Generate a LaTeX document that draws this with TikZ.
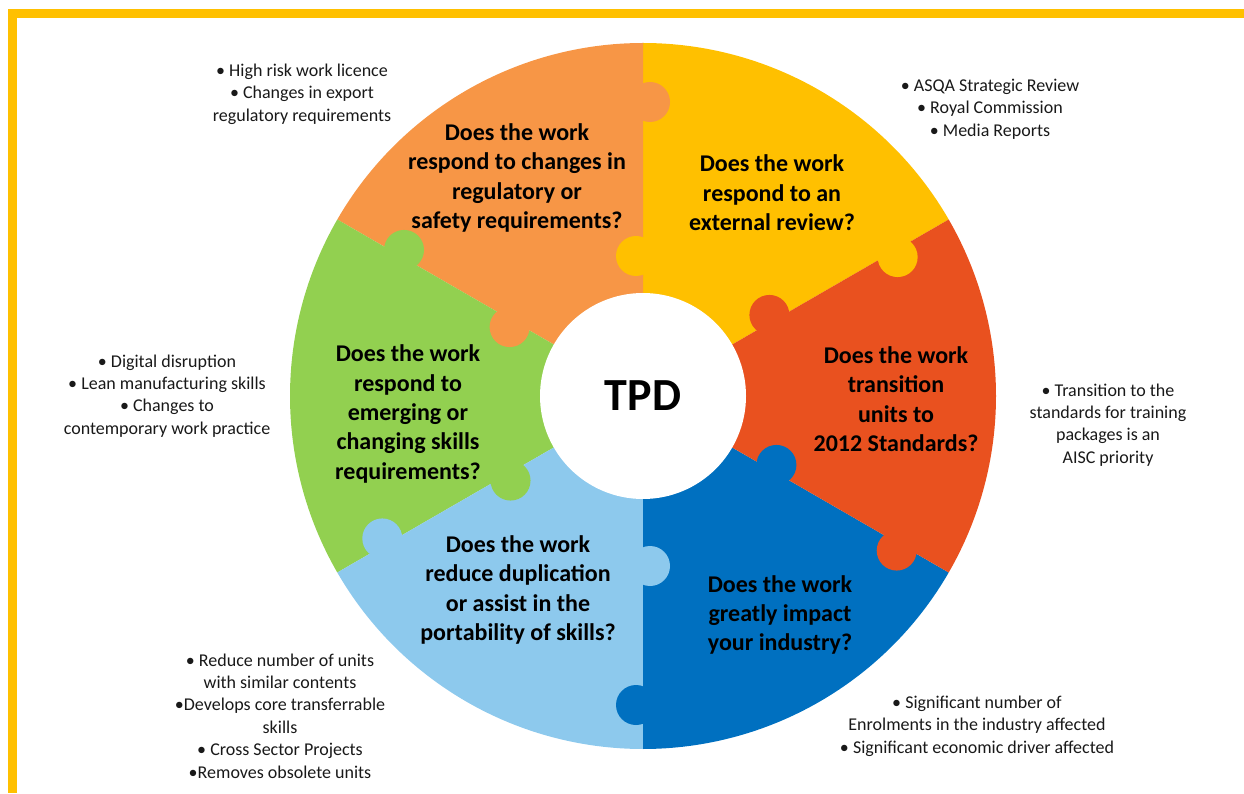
\documentclass[tikz,border=0pt]{standalone}
\usepackage{fontspec}
\setmainfont{Carlito}
\usepackage{tikz}
\usetikzlibrary{calc}
\usepackage{xcolor}
\definecolor{corange}{HTML}{F79646}
\definecolor{cyellow}{HTML}{FFC000}
\definecolor{cred}{HTML}{E9511F}
\definecolor{cblue}{HTML}{0070C0}
\definecolor{clight}{HTML}{8DC9ED}
\definecolor{cgreen}{HTML}{92D050}
\tikzstyle{question} = [align=center, text=black, font=\fontsize{24}{29.4}\selectfont\bfseries, inner sep=0pt]
\tikzstyle{notes} = [align=center, text=black!90, font=\fontsize{18}{22.4}\selectfont, inner sep=0pt]
\tikzstyle{hub} = [circle, fill=white, minimum size=206pt, inner sep=0pt, font=\fontsize{46}{50}\selectfont\bfseries]

\begin{document}
\begin{tikzpicture}[x=1pt, y=1pt]
\useasboundingbox (0,0) rectangle (1244,793);
% frame
\fill[cyellow] (8,0) rectangle (17,784);
\fill[cyellow] (8,775) rectangle (1244,784);

\begin{scope}[shift={(643,397)}]
% wheel sectors
\fill[cyellow] (0,0) -- (30:353pt) arc[start angle=30, end angle=90, radius=353pt] -- cycle;
\fill[corange] (0,0) -- (90:353pt) arc[start angle=90, end angle=150, radius=353pt] -- cycle;
\fill[cgreen] (0,0) -- (150:353pt) arc[start angle=150, end angle=210, radius=353pt] -- cycle;
\fill[clight] (0,0) -- (210:353pt) arc[start angle=210, end angle=270, radius=353pt] -- cycle;
\fill[cblue] (0,0) -- (270:353pt) arc[start angle=270, end angle=330, radius=353pt] -- cycle;
\fill[cred] (0,0) -- (-30:353pt) arc[start angle=-30, end angle=30, radius=353pt] -- cycle;
% puzzle tabs, outer ring
\fill[corange] ($(90:294pt)+(0:7pt)$) circle[radius=20pt];
\fill[cyellow] ($(30:290pt)+(-60:7pt)$) circle[radius=20pt];
\fill[cred] ($(-30:297pt)+(-120:7pt)$) circle[radius=20pt];
\fill[cblue] ($(-90:309pt)+(180:7pt)$) circle[radius=20pt];
\fill[clight] ($(210:297pt)+(120:7pt)$) circle[radius=20pt];
\fill[cgreen] ($(150:280pt)+(60:7pt)$) circle[radius=20pt];
% puzzle tabs, inner ring
\fill[cyellow] ($(90:140pt)+(180:7pt)$) circle[radius=20pt];
\fill[cred] ($(30:150pt)+(120:7pt)$) circle[radius=20pt];
\fill[cblue] ($(-30:150pt)+(60:7pt)$) circle[radius=20pt];
\fill[clight] ($(-90:170pt)+(0:7pt)$) circle[radius=20pt];
\fill[cgreen] ($(210:157pt)+(-60:7pt)$) circle[radius=20pt];
\fill[corange] ($(150:150pt)+(-120:7pt)$) circle[radius=20pt];
\node[hub] (tpd) at (0,0) {TPD};
\end{scope}

% questions
\node[question] (regulatory) at (517,615) {Does the work\\respond to changes in\\regulatory or\\safety requirements?};
\node[question] (review) at (772,600) {Does the work\\respond to an\\external review?};
\node[question] (standards) at (896,394) {Does the work\\transition\\units to\\2012 Standards?};
\node[question] (impact) at (780,178) {Does the work\\greatly impact\\your industry?};
\node[question] (portability) at (518,203) {Does the work\\reduce duplication\\or assist in the\\portability of skills?};
\node[question] (emerging) at (408,379) {Does the work\\respond to\\emerging or\\changing skills\\requirements?};

% notes
\node[notes] (regnotes) at (302,699) {• High risk work licence\\• Changes in export\\regulatory requirements};
\node[notes] (revnotes) at (990,684) {• ASQA Strategic Review\\• Royal Commission\\• Media Reports};
\node[notes] (emgnotes) at (167,397) {• Digital disruption\\• Lean manufacturing skills\\• Changes to\\contemporary work practice};
\node[notes] (stdnotes) at (1108,368) {• Transition to the\\standards for training\\packages is an\\AISC priority};
\node[notes] (portnotes) at (280,77) {• Reduce number of units\\with similar contents\\•Develops core transferrable\\skills\\• Cross Sector Projects\\•Removes obsolete units};
\node[notes] (impnotes) at (977,67) {• Significant number of\\Enrolments in the industry affected\\• Significant economic driver affected};
\end{tikzpicture}
\end{document}
